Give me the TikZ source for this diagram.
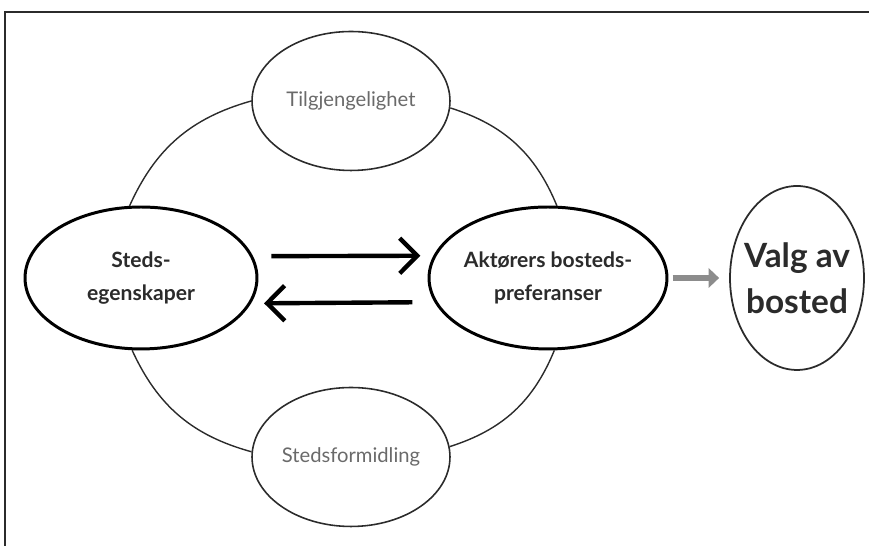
\documentclass[tikz,border=0pt]{standalone}
\usepackage{fontspec}
\setmainfont{Lato}
\usetikzlibrary{shapes.geometric,arrows.meta}
\definecolor{inkgrey}{HTML}{2B2B2B}
\definecolor{softgrey}{HTML}{6A6A6A}
\definecolor{arrowgrey}{HTML}{8C8C8C}
\begin{document}
\begin{tikzpicture}[x=0.02cm,y=0.02cm,
		outer/.style={ellipse, draw=inkgrey, line width=0.9pt, inner sep=0pt, minimum width=3.96cm, minimum height=2.78cm, align=center, text=softgrey, font=\fontsize{11.5}{13}\selectfont},
		core/.style={ellipse, draw=black, line width=1.7pt, inner sep=0pt, minimum height=2.84cm, align=center, text=inkgrey, font=\bfseries\fontsize{12}{19}\selectfont},
		link/.style={draw=inkgrey, line width=0.8pt},
		pair/.style={line width=2.5pt, -{Straight Barb[length=10pt,width=20pt,line width=2.5pt]}}]
	\useasboundingbox (0,0) rectangle (869,546);
	\draw[inkgrey, line width=1.1pt] (5,0) -- (5,534) -- (869,534);
	\node[outer] (tilg) at (351,445) {Tilgjengelighet};
	\node[outer] (formidling) at (351,89) {Stedsformidling};
	\node[core, minimum width=4.64cm] (steds) at (141,268) {Steds-\\egenskaper};
	\node[core, minimum width=4.6cm] (aktor) at (548,268) {Aktørers bosteds-\\preferanser};
	\node[ellipse, draw=inkgrey, line width=1pt, inner xsep=-8pt, inner ysep=0pt, minimum width=2.68cm, minimum height=3.68cm, align=center, text=inkgrey, font=\bfseries\fontsize{19}{26}\selectfont] (valg) at (797,268) {Valg av\\bosted};
	% ring between the four ellipses
	\draw[link] (tilg.180) to[bend right=25] (steds.99);
	\draw[link] (tilg.356) to[bend left=25] (aktor.83);
	\draw[link] (steds.263) to[bend right=25] (formidling.177);
	\draw[link] (aktor.275) to[bend left=25] (formidling.6);
	\draw[pair, shorten <=10.5pt, shorten >=7.4pt] (steds.11) -- (aktor.169);
	\draw[pair, shorten <=12.5pt, shorten >=7.4pt] (aktor.192.5) -- (steds.347.5);
	\draw[arrowgrey, line width=3pt, -{Triangle[length=6pt,width=11pt]}, shorten <=2.3pt, shorten >=5.7pt] (aktor.east) -- (valg.west);
\end{tikzpicture}
\end{document}
